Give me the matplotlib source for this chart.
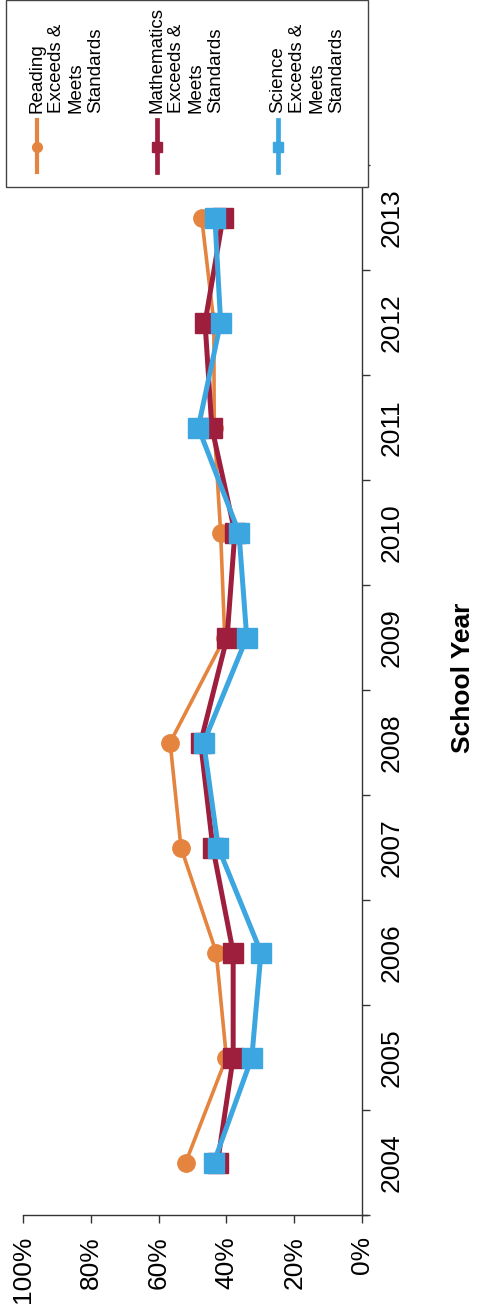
import matplotlib
matplotlib.use("Agg")
import matplotlib.pyplot as plt
from matplotlib.lines import Line2D
from matplotlib.patches import Rectangle

plt.rcParams['font.family'] = ['Liberation Sans', 'DejaVu Sans']

years = ['2004', '2005', '2006', '2007', '2008', '2009', '2010', '2011', '2012', '2013']
reading = [52.0, 40.0, 43.0, 53.4, 56.6, 40.5, 41.7, 43.6, 43.7, 47.3]
math = [42.6, 38.0, 38.0, 44.0, 47.6, 39.8, 37.5, 44.3, 46.3, 41.0]
science = [43.7, 32.5, 29.8, 42.4, 46.7, 34.0, 36.3, 48.3, 41.7, 43.4]
series_names = ['Reading\nExceeds &\nMeets\nStandards',
                'Mathematics\nExceeds &\nMeets\nStandards',
                'Science\nExceeds &\nMeets\nStandards']
pct_ticks = [0, 20, 40, 60, 80, 100]
pct_labels = ['0%', '20%', '40%', '60%', '80%', '100%']
axis_title = 'School Year'

colors = ['#E4843F', '#9E1F3D', '#3CA6E0']
W, H = 478, 1310
fig = plt.figure(figsize=(W / 100, H / 100), dpi=100)

def fx(px):
    return px / W

def fy(py):
    return 1 - py / H

ax = fig.add_axes([fx(23), fy(1215), fx(362) - fx(23), fy(165) - fy(1215)])
pos = list(range(len(years)))
ax.plot(reading, pos, color=colors[0], lw=2.6, marker='o', ms=12.5, zorder=3)
ax.plot(math, pos, color=colors[1], lw=3.6, marker='s', ms=14, zorder=4)
ax.plot(science, pos, color=colors[2], lw=3.6, marker='s', ms=14, zorder=5)

ax.set_xlim(100, 0)
ax.set_ylim(-0.5, len(years) - 0.5)
for s in ['left', 'top']:
    ax.spines[s].set_visible(False)
for s in ['right', 'bottom']:
    ax.spines[s].set_color('#333333')
    ax.spines[s].set_linewidth(1.0)

ax.set_xticks(pct_ticks)
ax.set_xticklabels(pct_labels, rotation=90, fontsize=19)
ax.tick_params(axis='x', direction='out', length=6, width=1, color='#333333', pad=9)

ax.yaxis.tick_right()
ax.set_yticks(pos)
ax.set_yticklabels(years, rotation=90, fontsize=19, va='center')
ax.set_yticks([p - 0.5 for p in pos] + [len(years) - 0.5], minor=True)
ax.tick_params(axis='y', which='major', length=0, pad=13)
ax.tick_params(axis='y', which='minor', direction='out', length=6, width=1, color='#333333')
ax.spines['bottom'].set_bounds(100, -1.6)

fig.text(fx(463), fy(678), axis_title, rotation=90, ha='center', va='center',
         fontsize=19, fontweight='bold')

# legend box
fig.add_artist(Rectangle((fx(6), fy(187)), fx(368) - fx(6), fy(0) - fy(187),
                         transform=fig.transFigure, facecolor='white',
                         edgecolor='#444444', lw=1.0, zorder=10))
leg_x = [37, 157, 278]
markers = ['o', 's', 's']
for i, name in enumerate(series_names):
    x = leg_x[i]
    fig.add_artist(Line2D([fx(x), fx(x)], [fy(120), fy(172)], transform=fig.transFigure,
                          color=colors[i], lw=3.4 if i else 3.0, zorder=11))
    fig.add_artist(Line2D([fx(x)], [fy(147)], transform=fig.transFigure,
                          color=colors[i], marker=markers[i], ms=7, lw=0, zorder=12))
    for j, line in enumerate(name.split('\n')):
        fig.text(fx(x + j * 19.7), fy(113), line, rotation=90, rotation_mode='anchor',
                 ha='left', va='center', fontsize=13.5, zorder=12)

fig.savefig('out.png', dpi=100)
